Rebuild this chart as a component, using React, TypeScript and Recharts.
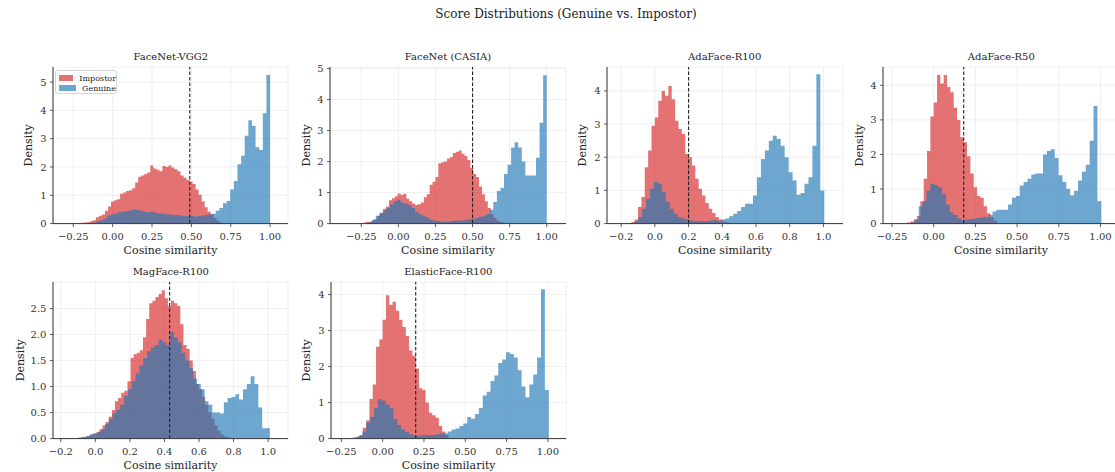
import React from 'react';
import {
  ComposedChart,
  Area,
  XAxis,
  YAxis,
  CartesianGrid,
  ReferenceLine,
} from 'recharts';

// Histogram densities, one value per bin
const vgg2Impostor = [0.01, 0.01, 0.02, 0.03, 0.04, 0.05, 0.08, 0.12, 0.22, 0.28, 0.32, 0.45, 0.6, 0.78, 0.82, 0.86, 1.05, 1.1, 1.15, 1.18, 1.25, 1.45, 1.65, 1.7, 1.75, 1.8, 2.05, 1.95, 1.9, 1.85, 2.03, 2.0, 2.05, 1.98, 1.92, 1.85, 1.7, 1.62, 1.55, 1.48, 1.4, 1.2, 1.02, 0.78, 0.58, 0.42, 0.33, 0.2, 0.1, 0.04];
const vgg2Genuine = [0.02, 0.04, 0.08, 0.12, 0.18, 0.28, 0.33, 0.36, 0.4, 0.42, 0.44, 0.47, 0.5, 0.48, 0.45, 0.42, 0.4, 0.43, 0.38, 0.36, 0.35, 0.33, 0.32, 0.3, 0.3, 0.28, 0.27, 0.26, 0.27, 0.25, 0.27, 0.29, 0.3, 0.33, 0.35, 0.45, 0.55, 0.72, 0.8, 1.2, 1.5, 2.1, 2.4, 3.1, 3.65, 3.45, 2.7, 2.6, 3.9, 5.25];
const casiaImpostor = [0.03, 0.05, 0.06, 0.1, 0.14, 0.25, 0.33, 0.48, 0.55, 0.75, 0.82, 0.88, 0.97, 0.93, 0.96, 0.8, 0.72, 0.65, 0.6, 0.62, 0.68, 0.85, 0.95, 1.25, 1.35, 1.5, 1.95, 1.98, 2.0, 2.1, 2.15, 2.28, 2.32, 2.36, 2.25, 2.18, 2.05, 1.8, 1.6, 1.5, 1.2, 0.95, 0.72, 0.5, 0.3, 0.18, 0.1, 0.05, 0.03, 0.01];
const casiaGenuine = [0.04, 0.12, 0.25, 0.35, 0.42, 0.5, 0.62, 0.72, 0.78, 0.68, 0.65, 0.6, 0.5, 0.38, 0.3, 0.25, 0.2, 0.14, 0.1, 0.08, 0.06, 0.07, 0.06, 0.08, 0.1, 0.09, 0.1, 0.12, 0.14, 0.16, 0.18, 0.22, 0.25, 0.3, 0.45, 0.7, 1.05, 1.15, 1.6, 1.9, 2.45, 2.62, 2.45, 2.0, 1.55, 1.55, 1.55, 2.12, 3.25, 4.78];
const r100Impostor = [0.02, 0.05, 0.12, 0.5, 0.8, 1.7, 2.2, 2.95, 3.2, 3.7, 4.0, 3.85, 4.15, 3.75, 3.1, 2.85, 2.7, 2.1, 2.0, 1.75, 1.35, 1.05, 0.85, 0.62, 0.45, 0.32, 0.2, 0.12, 0.06, 0.03];
const r100Genuine = [0.01, 0.02, 0.06, 0.2, 0.45, 0.75, 1.05, 1.25, 1.2, 0.95, 0.65, 0.45, 0.3, 0.2, 0.15, 0.12, 0.1, 0.08, 0.08, 0.07, 0.08, 0.09, 0.1, 0.08, 0.12, 0.15, 0.22, 0.3, 0.38, 0.5, 0.6, 0.6, 0.85, 1.4, 1.95, 2.2, 2.5, 2.65, 2.55, 2.35, 2.0, 1.55, 1.3, 0.87, 0.92, 1.2, 1.4, 2.35, 4.5, 1.0];
const r50Impostor = [0.03, 0.06, 0.12, 0.22, 0.65, 1.3, 2.1, 3.1, 3.5, 4.3, 4.05, 4.3, 3.95, 3.8, 3.35, 3.0, 2.5, 2.35, 1.95, 1.45, 1.05, 0.8, 0.75, 0.5, 0.3, 0.18, 0.08];
const r50Genuine = [0.02, 0.04, 0.12, 0.5, 0.65, 0.95, 1.15, 1.12, 1.05, 0.85, 0.55, 0.32, 0.25, 0.15, 0.1, 0.12, 0.13, 0.15, 0.17, 0.18, 0.18, 0.25, 0.35, 0.4, 0.4, 0.4, 0.55, 0.75, 0.8, 1.1, 1.2, 1.3, 1.42, 1.45, 1.45, 2.0, 2.1, 2.15, 1.9, 1.4, 1.2, 1.0, 0.82, 0.95, 1.25, 1.5, 1.7, 2.4, 3.4, 0.65];
const magImpostor = [0.01, 0.01, 0.02, 0.03, 0.05, 0.08, 0.1, 0.12, 0.18, 0.25, 0.32, 0.42, 0.55, 0.72, 0.78, 0.88, 0.92, 1.1, 1.55, 1.62, 1.65, 1.7, 1.95, 2.3, 2.6, 2.65, 2.72, 2.78, 2.85, 2.7, 2.55, 2.65, 2.6, 2.55, 2.2, 1.8, 1.72, 1.5, 1.3, 1.05, 0.95, 0.8, 0.65, 0.5, 0.38, 0.25, 0.15, 0.08, 0.04, 0.02];
const magGenuine = [0.02, 0.03, 0.05, 0.08, 0.1, 0.13, 0.18, 0.28, 0.38, 0.48, 0.55, 0.65, 0.82, 0.95, 1.1, 1.25, 1.4, 1.55, 1.68, 1.75, 1.8, 1.9, 1.85, 1.8, 2.05, 1.95, 1.85, 1.65, 1.5, 1.35, 1.15, 1.05, 0.95, 0.72, 0.65, 0.5, 0.5, 0.48, 0.7, 0.78, 0.8, 0.85, 0.75, 0.95, 1.05, 1.2, 1.05, 0.6, 0.2, 0.2];
const elasticImpostor = [0.01, 0.03, 0.05, 0.1, 0.3, 0.5, 1.1, 1.5, 2.55, 2.75, 3.3, 3.98, 3.72, 3.8, 3.55, 3.3, 3.1, 2.85, 2.45, 2.3, 1.95, 1.4, 1.35, 1.0, 0.72, 0.65, 0.58, 0.35, 0.2, 0.1];
const elasticGenuine = [0.03, 0.08, 0.2, 0.45, 0.6, 0.85, 1.1, 1.05, 0.95, 0.85, 0.55, 0.38, 0.25, 0.18, 0.12, 0.08, 0.08, 0.09, 0.1, 0.1, 0.1, 0.12, 0.14, 0.15, 0.2, 0.25, 0.28, 0.35, 0.42, 0.6, 0.55, 0.68, 0.85, 1.2, 1.3, 1.6, 1.75, 2.1, 2.2, 2.4, 2.35, 2.25, 1.9, 1.45, 1.15, 1.5, 1.78, 2.25, 4.15, 1.35];

const models = ['FaceNet-VGG2', 'FaceNet (CASIA)', 'AdaFace-R100', 'AdaFace-R50', 'MagFace-R100', 'ElasticFace-R100'];
const impostorBins = [vgg2Impostor, casiaImpostor, r100Impostor, r50Impostor, magImpostor, elasticImpostor];
const genuineBins = [vgg2Genuine, casiaGenuine, r100Genuine, r50Genuine, magGenuine, elasticGenuine];
const impostorStart = [-0.26, -0.24, -0.16, -0.16, -0.12, -0.2];
const impostorBinWidth = [0.0192, 0.0196, 0.02, 0.02, 0.018, 0.02];
const genuineStart = [-0.15, -0.2, -0.17, -0.16, -0.1, -0.17];
const genuineBinWidth = [0.023, 0.024, 0.0235, 0.0233, 0.0222, 0.0235];
const thresholds = [0.49, 0.5, 0.2, 0.18, 0.43, 0.2];

const xTicksQuarter = [-0.25, 0, 0.25, 0.5, 0.75, 1];
const xTicksFifth = [-0.2, 0, 0.2, 0.4, 0.6, 0.8, 1];
const yTicks5 = [0, 1, 2, 3, 4, 5];
const yTicks4 = [0, 1, 2, 3, 4];
const yTicksHalf = [0, 0.5, 1, 1.5, 2, 2.5];
const xTickSets = [xTicksQuarter, xTicksQuarter, xTicksFifth, xTicksQuarter, xTicksFifth, xTicksQuarter];
const yTickSets = [yTicks5, yTicks5, yTicks4, yTicks4, yTicksHalf, yTicks4];

// axis limits and where each subplot sits on the page
const xDomains: [number, number][] = [[-0.379, 1.114], [-0.461, 1.13], [-0.284, 1.116], [-0.304, 1.111], [-0.245, 1.115], [-0.3125, 1.111]];
const yMax = [5.53, 5.05, 4.72, 4.53, 3.01, 4.35];
const layout = [
  { left: 53.3, top: 66.7, w: 235, h: 156.6, ylabel: 24.7 },
  { left: 330, top: 66.7, w: 236, h: 156.6, ylabel: 25.7 },
  { left: 606.7, top: 66.7, w: 236, h: 156.6, ylabel: 25 },
  { left: 883.3, top: 66.7, w: 236, h: 156.6, ylabel: 25.7 },
  { left: 53.3, top: 281.7, w: 235, h: 156.6, ylabel: 16.7 },
  { left: 330.7, top: 281.7, w: 235.3, h: 156.6, ylabel: 25 },
];

const FONT = '"DejaVu Serif", serif';
const RED = '#d62728';
const BLUE = '#1f77b4';
const ALPHA = 0.65;

type Row = { x: number; imp?: number; gen?: number };

function buildSteps(i: number): Row[] {
  const rows = new Map<number, Row>();
  const put = (x: number, key: 'imp' | 'gen', v: number) => {
    const k = Math.round(x * 1e6) / 1e6;
    const r = rows.get(k) || { x: k };
    r[key] = v;
    rows.set(k, r);
  };
  const add = (vals: number[], start: number, width: number, key: 'imp' | 'gen') => {
    vals.forEach((v, j) => put(start + j * width, key, v));
    put(start + vals.length * width, key, vals[vals.length - 1]);
  };
  add(impostorBins[i], impostorStart[i], impostorBinWidth[i], 'imp');
  add(genuineBins[i], genuineStart[i], genuineBinWidth[i], 'gen');
  return Array.from(rows.values()).sort((a, b) => a.x - b.x);
}

const fmtX = (d: number) => (v: number) =>
  `${v < 0 ? '\u2212' : ''}${Math.abs(v).toFixed(d)}`;

const tickStyle = { fontSize: 10, fill: '#333', fontFamily: FONT };
const PAD_L = 50;
const PAD_T = 26;
const PAD_R = 4;
const PAD_B = 40;

function Panel({ i }: { i: number }) {
  const box = layout[i];
  const data = buildSteps(i);
  const xDec = xTickSets[i] === xTicksFifth ? 1 : 2;
  const yFmt = (v: number) => (yTickSets[i] === yTicksHalf ? v.toFixed(1) : String(v));

  return (
    <div style={{ position: 'absolute', left: box.left - PAD_L, top: box.top - PAD_T }}>
      <div
        style={{
          position: 'absolute',
          left: PAD_L,
          width: box.w,
          top: PAD_T - 16,
          height: 12,
          lineHeight: '12px',
          textAlign: 'center',
          fontSize: 10,
          color: '#222',
          fontFamily: FONT,
        }}
      >
        {models[i]}
      </div>
      <ComposedChart
        width={box.w + PAD_L + PAD_R}
        height={box.h + PAD_T + PAD_B}
        data={data}
        margin={{ top: PAD_T, right: PAD_R, left: 0, bottom: 0 }}
        style={{ fontFamily: FONT }}
      >
        <CartesianGrid stroke="#ebebeb" strokeWidth={0.8} />
        <XAxis
          type="number"
          dataKey="x"
          domain={xDomains[i]}
          allowDataOverflow
          ticks={xTickSets[i]}
          interval={0}
          tickFormatter={fmtX(xDec)}
          tick={tickStyle}
          tickSize={3.5}
          tickMargin={6}
          height={PAD_B}
          axisLine={{ stroke: '#333', strokeWidth: 1 }}
          tickLine={{ stroke: '#333', strokeWidth: 0.8 }}
          label={{
            value: 'Cosine similarity',
            position: 'insideBottom',
            offset: 10,
            style: { fontSize: 11, fill: '#222', fontFamily: FONT },
          }}
        />
        <YAxis
          type="number"
          domain={[0, yMax[i]]}
          allowDataOverflow
          ticks={yTickSets[i]}
          interval={0}
          tickFormatter={yFmt}
          tick={tickStyle}
          tickSize={3}
          tickMargin={3.5}
          width={PAD_L}
          axisLine={{ stroke: '#333', strokeWidth: 1 }}
          tickLine={{ stroke: '#333', strokeWidth: 0.8 }}
          label={{
            value: 'Density',
            angle: -90,
            position: 'insideLeft',
            offset: box.ylabel,
            style: { fontSize: 11, fill: '#222', fontFamily: FONT, textAnchor: 'middle' },
          }}
        />
        <Area
          type="stepAfter"
          dataKey="imp"
          connectNulls
          fill={RED}
          fillOpacity={ALPHA}
          stroke="none"
          dot={false}
          activeDot={false}
          isAnimationActive={false}
        />
        <Area
          type="stepAfter"
          dataKey="gen"
          connectNulls
          fill={BLUE}
          fillOpacity={ALPHA}
          stroke="none"
          dot={false}
          activeDot={false}
          isAnimationActive={false}
        />
        <ReferenceLine x={thresholds[i]} stroke="#222" strokeWidth={1.1} strokeDasharray="3.5 2" />
      </ComposedChart>
    </div>
  );
}

function LegendBox() {
  const item = (color: string, text: string) => (
    <div style={{ display: 'flex', alignItems: 'center', height: 10 }}>
      <span
        style={{
          display: 'inline-block',
          width: 17,
          height: 5.5,
          background: color,
          opacity: ALPHA,
          marginRight: 6,
        }}
      />
      <span>{text}</span>
    </div>
  );
  return (
    <div
      style={{
        position: 'absolute',
        left: 55,
        top: 70,
        width: 62,
        height: 24,
        boxSizing: 'border-box',
        padding: '2px 0 0 3px',
        border: '1px solid #d5d5d5',
        borderRadius: 3,
        background: 'rgba(255,255,255,0.85)',
        fontSize: 8,
        color: '#222',
        fontFamily: FONT,
      }}
    >
      {item(RED, 'Impostor')}
      {item(BLUE, 'Genuine')}
    </div>
  );
}

export default function App() {
  return (
    <div
      style={{
        position: 'absolute',
        left: 0,
        top: 0,
        width: 1115,
        height: 472,
        overflow: 'hidden',
        background: '#fff',
        fontFamily: FONT,
      }}
    >
      <div
        style={{
          position: 'absolute',
          left: 0,
          width: 1132,
          top: 7,
          lineHeight: '14px',
          textAlign: 'center',
          fontSize: 12,
          color: '#222',
        }}
      >
        Score Distributions (Genuine vs. Impostor)
      </div>
      {models.map((m, i) => (
        <Panel key={m} i={i} />
      ))}
      <LegendBox />
    </div>
  );
}
